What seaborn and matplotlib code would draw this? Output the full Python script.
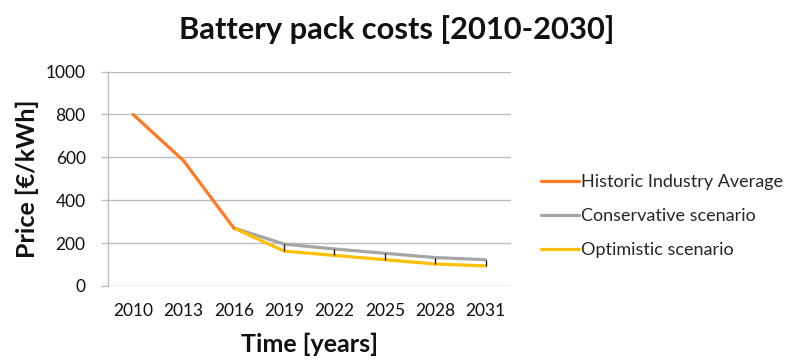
import matplotlib
matplotlib.use("Agg")
import matplotlib.pyplot as plt
import seaborn as sns
import pandas as pd

years = ["2010", "2013", "2016", "2019", "2022", "2025", "2028", "2031"]
historic_years = ["2010", "2013", "2016"]
historic = [800, 585, 270]
scenario_years = ["2016", "2019", "2022", "2025", "2028", "2031"]
conservative = [270, 195, 172, 152, 132, 122]
optimistic = [270, 162, 142, 122, 102, 93]

series_names = ["Historic Industry Average", "Conservative scenario", "Optimistic scenario"]
colors = ["#FF7A22", "#A5A5A5", "#FFC000"]

pos = {y: i for i, y in enumerate(years)}
frames = []
for name, yrs, vals in [
    (series_names[0], historic_years, historic),
    (series_names[1], scenario_years, conservative),
    (series_names[2], scenario_years, optimistic),
]:
    frames.append(pd.DataFrame({"x": [pos[y] for y in yrs], "price": vals, "series": name}))
df = pd.concat(frames, ignore_index=True)

sns.set_theme(style="white")
plt.rcParams["font.family"] = ["Lato", "DejaVu Sans"]

fig = plt.figure(figsize=(7.93, 3.6), dpi=100)
ax = fig.add_axes([0.136, 0.206, 0.508, 0.595])

# draw scenarios first so the historic line sits on top at the junction
order = [series_names[1], series_names[2], series_names[0]]
for name in order:
    sub = df[df["series"] == name]
    sns.lineplot(data=sub, x="x", y="price", ax=ax, color=colors[series_names.index(name)],
                 linewidth=2.3, label=name, zorder=3)

# high-low lines between the two scenarios
hl_x = [pos[y] for y in scenario_years[1:]]
ax.vlines(hl_x, optimistic[1:], conservative[1:], colors="#222222", linewidth=1.0, zorder=4)

ax.set_xlim(-0.5, len(years) - 0.5)
ax.set_ylim(0, 1000)
ax.set_yticks(range(0, 1001, 200))
ax.set_xticks(range(len(years)))
ax.set_xticklabels(years)
ax.yaxis.grid(True, color="#BDBDBD", linewidth=1.0)
ax.xaxis.grid(False)
for s in ["top", "right", "bottom"]:
    ax.spines[s].set_visible(False)
ax.spines["left"].set_color("#BDBDBD")
ax.spines["left"].set_linewidth(1.0)
ax.tick_params(axis="x", length=0, labelsize=12.5, colors="#111111", pad=12.5)
ax.tick_params(axis="y", length=5, width=1.0, color="#BDBDBD", labelsize=12.5,
               labelcolor="#111111", pad=11, left=True)

fig.suptitle("Battery pack costs [2010-2030]", fontsize=22.2, fontweight="bold",
             x=0.5, y=1 - 39 / 360, va="baseline", color="#111111")
ax.set_xlabel("Time [years]", fontsize=18, fontweight="bold", labelpad=10, color="#111111")
ax.set_ylabel("Price [€/kWh]", fontsize=18, fontweight="bold", labelpad=5, color="#111111")

handles, labels = ax.get_legend_handles_labels()
hmap = dict(zip(labels, handles))
ax.legend([hmap[n] for n in series_names], series_names, loc="center left",
          bbox_to_anchor=(1.035, 0.326), frameon=False, fontsize=13,
          handlelength=2.1, handletextpad=0.12, labelspacing=1.0)

fig.savefig("out.png", dpi=100)
